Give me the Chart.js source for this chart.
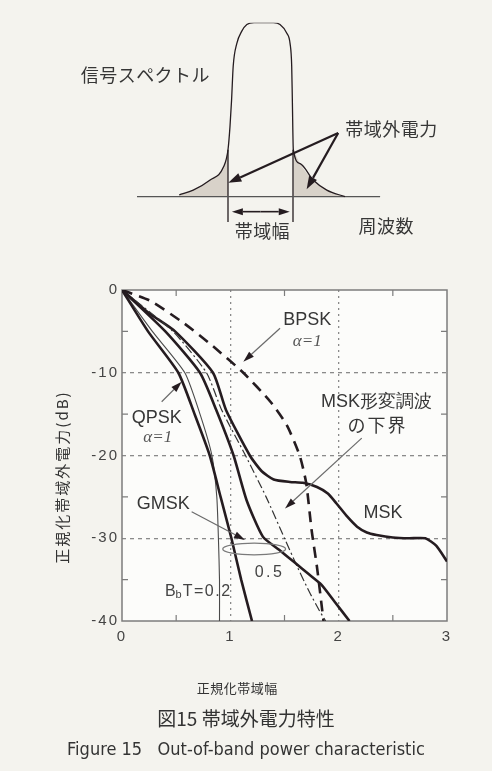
<!DOCTYPE html>
<html>
<head>
<meta charset="utf-8">
<script src="https://cdn.jsdelivr.net/npm/chart.js@4.4.1/dist/chart.umd.min.js"></script>
<style>
  html, body { margin: 0; padding: 0; background: #f4f3ee; }
  #page { position: relative; width: 492px; height: 771px; overflow: hidden; }
  #specCanvas { position: absolute; left: 0; top: 0; }
  #powerCanvas { position: absolute; left: 0; top: 260px; }
  .cap { position: absolute; left: 0; width: 492px; text-align: center; color: #333; white-space: pre; }
  #capJa { top: 704px; line-height: 26px; font: 19px "Noto Sans CJK JP", sans-serif; }
  #capEn { top: 738px; line-height: 22px; font: 18px "Liberation Sans Narrow", "DejaVu Sans Condensed", "Roboto Condensed", sans-serif; }
</style>
</head>
<body>
<div id="page">
  <canvas id="specCanvas" width="492" height="260"></canvas>
  <canvas id="powerCanvas" width="492" height="511"></canvas>
  <div class="cap" id="capJa">図15 帯域外電力特性</div>
  <div class="cap" id="capEn">Figure 15   Out-of-band power characteristic</div>
</div>
<script>
// ---- sketch of a signal spectrum (frequency in band-halfwidths, amplitude 0..1) ----
var specF = [-2.5, -2.07, -1.55, -1.14, -1.0, -0.94, -0.89, -0.84, -0.73, -0.58, -0.42, -0.2, 0.2, 0.4, 0.6, 0.81, 0.91, 0.96, 0.98, 1.01, 1.22, 1.62, 2.04, 2.6];
var specA = [0.01, 0.038, 0.096, 0.17, 0.27, 0.4, 0.556, 0.75, 0.88, 0.95, 0.99, 1.0, 1.0, 1.0, 0.99, 0.94, 0.88, 0.75, 0.556, 0.27, 0.19, 0.096, 0.038, 0.0];
var tailLeftF = [-2.5, -2.07, -1.55, -1.14, -1.0];
var tailLeftA = [0.01, 0.038, 0.096, 0.17, 0.27];
var tailRightF = [1.01, 1.22, 1.62, 2.04, 2.6];
var tailRightA = [0.27, 0.19, 0.096, 0.038, 0.0];
var baseF = [-3.8, 3.68];
var baseA = [0, 0];
var bandEdgeF = [-1, 1];
var bandEdgeA = [-0.146, 0.27];

// ---- out-of-band power vs normalized bandwidth (dB) ----
var xTickValues = [0, 1, 2, 3];
var yTickValues = [0, -10, -20, -30, -40];
var xMinorTicks = [0.5, 1.5, 2.5];
var yMinorTicks = [-5, -15, -25, -35];

var gmsk02X = [0, 0.24, 0.52, 0.67, 0.81, 0.91, 1.01, 1.1, 1.2];
var gmsk02Y = [0, -5, -10, -15, -20, -25, -30, -35, -40];
var qpskX = [0, 0.28, 0.58, 0.72, 0.83, 0.875, 0.89, 0.9, 0.9];
var qpskY = [0, -5, -10, -15, -20, -25, -30, -35, -40];
var gmsk05X = [0, 0.4, 0.72, 0.87, 1.03, 1.15, 1.3, 1.45, 1.6, 1.72, 1.84, 1.97, 2.1];
var gmsk05Y = [0, -5, -10, -14.5, -20, -25.4, -29.8, -31.4, -33, -34.3, -35.6, -37.8, -40];
var mskBoundX = [0, 0.47, 0.78, 0.92, 1.14, 1.33, 1.5, 1.62, 1.73, 1.82, 1.88];
var mskBoundY = [0, -5, -10, -14.5, -20, -25, -30, -33.5, -36.5, -38.7, -40];
var mskX = [0, 0.25, 0.49, 0.84, 0.96, 1.18, 1.29, 1.4, 1.55, 1.67, 1.8, 1.9, 1.98, 2.08, 2.17, 2.26, 2.35, 2.5, 2.65, 2.8, 2.9, 3.0];
var mskY = [0, -2.8, -5, -10, -14.5, -20, -21.9, -22.9, -23.2, -23.3, -23.8, -24.6, -25.8, -27.4, -28.6, -29.3, -29.6, -29.9, -30, -30, -30.9, -32.8];
var bpskX = [0, 0.26, 0.57, 0.84, 1.12, 1.37, 1.52, 1.64, 1.7, 1.75, 1.8, 1.86];
var bpskY = [0, -1.3, -4, -6.8, -10, -13.5, -16.3, -20, -23.3, -29, -33.5, -40];

var ink = '#251c20';
var textInk = '#363636';
var jaFont = '"Noto Sans CJK JP", sans-serif';
var latFont = '"Liberation Sans", Arial, sans-serif';

function pts(xs, ys) {
    return xs.map(function (x, i) { return {x: x, y: ys[i]}; });
}

function curve(label, data, width, dash, color) {
    return {
        label: label,
        data: data,
        showLine: true,
        pointRadius: 0,
        borderColor: color,
        borderWidth: width,
        borderDash: dash,
        tension: 0.2,
        fill: false
    };
}

// Draws a line with a filled head at (x2, y2)
function arrow(ctx, x1, y1, x2, y2, o) {
    var ang = Math.atan2(y2 - y1, x2 - x1);
    var hw = o.width / 2;
    var bx = x2 - o.head * Math.cos(ang), by = y2 - o.head * Math.sin(ang);
    ctx.save();
    ctx.strokeStyle = o.line;
    ctx.lineWidth = o.lw;
    ctx.beginPath();
    ctx.moveTo(x1, y1);
    ctx.lineTo(bx, by);
    ctx.stroke();
    ctx.fillStyle = o.fill;
    ctx.beginPath();
    ctx.moveTo(x2, y2);
    ctx.lineTo(bx + hw * Math.sin(ang), by - hw * Math.cos(ang));
    ctx.lineTo(bx - hw * Math.sin(ang), by + hw * Math.cos(ang));
    ctx.closePath();
    ctx.fill();
    ctx.restore();
}

function label(ctx, str, x, y, font, color, spacing) {
    ctx.save();
    ctx.font = font;
    ctx.fillStyle = color;
    ctx.textAlign = 'center';
    ctx.textBaseline = 'middle';
    ctx.letterSpacing = (spacing || 0) + 'px';
    ctx.fillText(str, x + (spacing || 0) / 2, y);
    ctx.restore();
}

// ---- top sketch ----
var specNotes = {
    id: 'specNotes',
    afterDatasetsDraw: function (chart) {
        var ctx = chart.ctx, sx = chart.scales.x, sy = chart.scales.y;
        function P(f, a) { return [sx.getPixelForValue(f), sy.getPixelForValue(a)]; }
        var t = P(2.39, 0.366), l = P(-0.99, 0.08), r = P(1.42, 0.043);
        var heavy = {line: ink, fill: ink, lw: 2.2, head: 13, width: 9};
        arrow(ctx, t[0], t[1], l[0], l[1], heavy);
        arrow(ctx, t[0], t[1], r[0], r[1], heavy);
        var a = P(-0.88, -0.086), b = P(0.9, -0.086), m = P(0, -0.086);
        var thin = {line: ink, fill: ink, lw: 1.6, head: 11, width: 7};
        arrow(ctx, m[0], m[1], a[0], a[1], thin);
        arrow(ctx, m[0], m[1], b[0], b[1], thin);
        var p;
        p = P(-3.55, 0.70); label(ctx, '信号スペクトル', p[0], p[1], '18px ' + jaFont, textInk, 0.5);
        p = P(4.02, 0.39); label(ctx, '帯域外電力', p[0], p[1], '18px ' + jaFont, textInk, 0.5);
        p = P(3.86, -0.17); label(ctx, '周波数', p[0], p[1], '18px ' + jaFont, textInk, 0.5);
        p = P(0.05, -0.198); label(ctx, '帯域幅', p[0], p[1], '18px ' + jaFont, textInk, 0.5);
    }
};

new Chart(document.getElementById('specCanvas'), {
    type: 'scatter',
    data: {
        datasets: [
            {data: pts(specF, specA), showLine: true, pointRadius: 0, borderColor: ink, borderWidth: 1.3, cubicInterpolationMode: 'monotone', fill: false},
            {data: pts(baseF, baseA), showLine: true, pointRadius: 0, borderColor: '#555', borderWidth: 1.3, fill: false},
            {data: pts([bandEdgeF[0], bandEdgeF[0]], bandEdgeA), showLine: true, pointRadius: 0, borderColor: ink, borderWidth: 1.3, fill: false},
            {data: pts([bandEdgeF[1], bandEdgeF[1]], bandEdgeA), showLine: true, pointRadius: 0, borderColor: ink, borderWidth: 1.3, fill: false},
            {data: pts(tailLeftF, tailLeftA), showLine: true, pointRadius: 0, borderWidth: 0, borderColor: 'rgba(0,0,0,0)', cubicInterpolationMode: 'monotone', backgroundColor: '#d8d2c9', fill: 'origin'},
            {data: pts(tailRightF, tailRightA), showLine: true, pointRadius: 0, borderWidth: 0, borderColor: 'rgba(0,0,0,0)', cubicInterpolationMode: 'monotone', backgroundColor: '#d8d2c9', fill: 'origin'}
        ]
    },
    options: {
        responsive: false,
        animation: false,
        layout: {padding: {left: 130.5, right: 101.5, top: 22.7, bottom: 28.5}},
        plugins: {legend: {display: false}, tooltip: {enabled: false}},
        scales: {
            x: {type: 'linear', min: -4, max: 4, display: false},
            y: {type: 'linear', min: -0.2, max: 1, display: false}
        }
    },
    plugins: [specNotes]
});

// ---- main chart decorations ----
var notes = {
    bpsk: {x: 1.71, y: -3.6},
    bpskAlpha: {x: 1.71, y: -6.2},
    bpskArrow: [1.459, -4.63, 1.12, -8.66],
    bound1: {x: 2.35, y: -13.5},
    bound2: {x: 2.35, y: -16.3},
    boundArrow: [2.213, -17.9, 1.505, -26.4],
    qpsk: {x: 0.32, y: -15.5},
    qpskAlpha: {x: 0.33, y: -17.8},
    qpskArrow: [0.366, -13.5, 0.551, -11.08],
    gmsk: {x: 0.38, y: -25.9},
    gmskArrow: [0.643, -26.8, 1.135, -30.2],
    ring: [0.93, 1.51, -30.6, -32.0],
    half: {x: 1.35, y: -34.1},
    bt: {x: 0.71, y: -36.4},
    msk: {x: 2.41, y: -26.9}
};

var powerDecor = {
    id: 'powerDecor',
    beforeDraw: function (chart) {
        var a = chart.chartArea, ctx = chart.ctx;
        ctx.save();
        ctx.fillStyle = '#fcfcfa';
        ctx.fillRect(a.left, a.top, a.right - a.left, a.bottom - a.top);
        ctx.restore();
        ctx.letterSpacing = '2px';
    },
    beforeDatasetsDraw: function (chart) {
        var a = chart.chartArea, ctx = chart.ctx, sx = chart.scales.x, sy = chart.scales.y;
        ctx.letterSpacing = '0px';
        ctx.save();
        ctx.strokeStyle = '#7c7c7c';
        ctx.lineWidth = 1.5;
        ctx.strokeRect(a.left, a.top, a.right - a.left, a.bottom - a.top);
        ctx.lineWidth = 1.2;
        ctx.beginPath();
        xMinorTicks.forEach(function (v) {
            var x = sx.getPixelForValue(v);
            ctx.moveTo(x, a.top); ctx.lineTo(x, a.top + 6);
            ctx.moveTo(x, a.bottom); ctx.lineTo(x, a.bottom - 6);
        });
        yMinorTicks.forEach(function (v) {
            var y = sy.getPixelForValue(v);
            ctx.moveTo(a.left, y); ctx.lineTo(a.left + 6, y);
            ctx.moveTo(a.right, y); ctx.lineTo(a.right - 6, y);
        });
        ctx.stroke();
        ctx.restore();
    },
    afterDatasetsDraw: function (chart) {
        var ctx = chart.ctx, sx = chart.scales.x, sy = chart.scales.y;
        function X(v) { return sx.getPixelForValue(v); }
        function Y(v) { return sy.getPixelForValue(v); }
        var big = '18px ' + latFont;
        var greek = 'italic 17px "Liberation Serif", serif';
        var pointer = {line: '#6a6a6a', fill: ink, lw: 1.2, head: 11, width: 7};
        function pointTo(a) { arrow(ctx, X(a[0]), Y(a[1]), X(a[2]), Y(a[3]), pointer); }

        label(ctx, 'BPSK', X(notes.bpsk.x), Y(notes.bpsk.y), big, textInk);
        label(ctx, 'α=1', X(notes.bpskAlpha.x), Y(notes.bpskAlpha.y), greek, '#555');
        pointTo(notes.bpskArrow);

        label(ctx, 'MSK形変調波', X(notes.bound1.x), Y(notes.bound1.y), big, textInk);
        label(ctx, 'の下界', X(notes.bound2.x), Y(notes.bound2.y), '18px ' + jaFont, textInk, 2);
        pointTo(notes.boundArrow);

        label(ctx, 'QPSK', X(notes.qpsk.x), Y(notes.qpsk.y), big, textInk);
        label(ctx, 'α=1', X(notes.qpskAlpha.x), Y(notes.qpskAlpha.y), greek, '#555');
        pointTo(notes.qpskArrow);

        label(ctx, 'GMSK', X(notes.gmsk.x), Y(notes.gmsk.y), big, textInk);
        pointTo(notes.gmskArrow);

        var r = notes.ring;
        ctx.save();
        ctx.strokeStyle = '#7a7a7a';
        ctx.lineWidth = 1.3;
        ctx.beginPath();
        ctx.ellipse((X(r[0]) + X(r[1])) / 2, (Y(r[2]) + Y(r[3])) / 2,
            (X(r[1]) - X(r[0])) / 2, (Y(r[3]) - Y(r[2])) / 2, 0, 0, Math.PI * 2);
        ctx.stroke();
        ctx.restore();

        label(ctx, '0.5', X(notes.half.x), Y(notes.half.y), '16px ' + latFont, '#444', 2.5);

        // B_bT=0.2 with a subscript b
        ctx.save();
        ctx.fillStyle = '#444';
        ctx.textBaseline = 'middle';
        ctx.textAlign = 'left';
        var bx = X(notes.bt.x) - 34, by = Y(notes.bt.y);
        ctx.font = '16px ' + latFont;
        ctx.fillText('B', bx, by);
        bx += ctx.measureText('B').width;
        ctx.font = '11px ' + latFont;
        ctx.fillText('b', bx, by + 4);
        bx += ctx.measureText('b').width + 1;
        ctx.font = '16px ' + latFont;
        ctx.letterSpacing = '1.5px';
        ctx.fillText('T=0.2', bx, by);
        ctx.restore();

        label(ctx, 'MSK', X(notes.msk.x), Y(notes.msk.y), big, textInk);

        // axis titles
        label(ctx, '正規化帯域幅', 237, 428, '13px ' + jaFont, '#333', 0.5);
        ctx.save();
        ctx.translate(62, 218);
        ctx.rotate(-Math.PI / 2);
        label(ctx, '正規化帯域外電力(dB)', 0, 0, '15px ' + jaFont, '#333', 2);
        ctx.restore();
    }
};

new Chart(document.getElementById('powerCanvas'), {
    type: 'scatter',
    data: {
        datasets: [
            curve('GMSK BbT=0.2', pts(gmsk02X, gmsk02Y), 2.6, [], ink),
            curve('QPSK α=1', pts(qpskX, qpskY), 1.1, [], '#4a4a4a'),
            curve('GMSK BbT=0.5', pts(gmsk05X, gmsk05Y), 2.6, [], ink),
            curve('MSK形変調波の下界', pts(mskBoundX, mskBoundY), 1.2, [9, 3, 2, 3], '#333'),
            curve('MSK', pts(mskX, mskY), 2.6, [], ink),
            curve('BPSK α=1', pts(bpskX, bpskY), 2.6, [11, 7], ink)
        ]
    },
    options: {
        responsive: false,
        animation: false,
        layout: {padding: {left: 0, right: 45, top: 30, bottom: 0}},
        plugins: {legend: {display: false}, tooltip: {enabled: false}},
        scales: {
            x: {
                type: 'linear', min: 0, max: 3,
                afterBuildTicks: function (s) { s.ticks = xTickValues.map(function (v) { return {value: v}; }); },
                afterFit: function (s) { s.height = 150; },
                grid: {
                    drawTicks: false, lineWidth: 1.3,
                    color: function (c) { return (c.tick && c.tick.value > 0 && c.tick.value < 3) ? '#8a8a8a' : 'rgba(0,0,0,0)'; }
                },
                border: {display: false, dash: [2, 4]},
                ticks: {padding: 7, maxRotation: 0, color: '#444', font: {family: 'Liberation Sans', size: 15}}
            },
            y: {
                type: 'linear', min: -40, max: 0,
                afterBuildTicks: function (s) { s.ticks = yTickValues.map(function (v) { return {value: v}; }); },
                afterFit: function (s) { s.width = 122; },
                grid: {
                    drawTicks: false, lineWidth: 1.3,
                    color: function (c) { return (c.tick && c.tick.value < 0 && c.tick.value > -40) ? '#8a8a8a' : 'rgba(0,0,0,0)'; }
                },
                border: {display: false, dash: [4, 4]},
                ticks: {padding: 3, color: '#444', font: {family: 'Liberation Sans', size: 15}}
            }
        }
    },
    plugins: [powerDecor]
});
</script>
</body>
</html>
